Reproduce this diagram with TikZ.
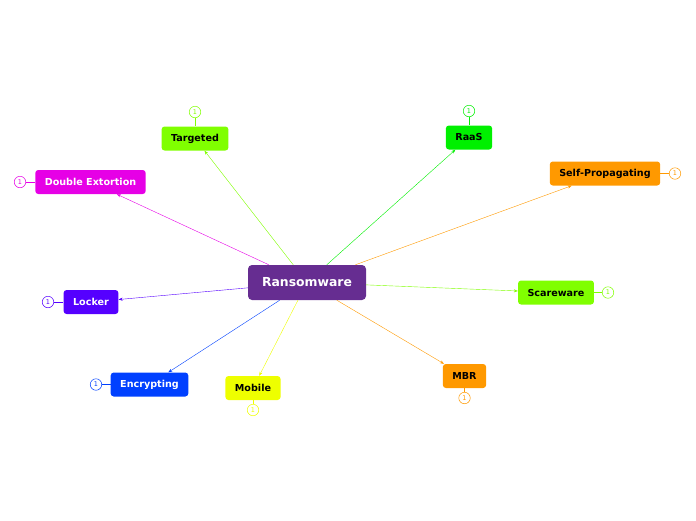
\documentclass[tikz,border=0pt]{standalone}
\usepackage{fontspec}
\setmainfont{DejaVu Sans}
\usetikzlibrary{arrows.meta, positioning}
\definecolor{rootpurple}{HTML}{662D91}
\definecolor{mmagenta}{HTML}{E600E6}
\definecolor{mlime}{HTML}{80FF00}
\definecolor{mgreen}{HTML}{00F000}
\definecolor{morange}{HTML}{FF9900}
\definecolor{myellow}{HTML}{EEFF00}
\definecolor{mblue}{HTML}{0040FF}
\definecolor{mviolet}{HTML}{5500FF}
\tikzset{
  root/.style={rounded corners=4pt, fill=rootpurple, text=white, minimum width=118pt, minimum height=35pt, font=\bfseries\fontsize{12.4}{14}\selectfont},
  leaf/.style={rounded corners=3pt, fill=#1, minimum height=24pt, inner xsep=9.5pt, font=\bfseries\fontsize{9.6}{11}\selectfont},
  badge/.style={circle, draw=#1, fill=white, text=#1, inner sep=0pt, minimum size=11.5pt, line width=0.5pt, font=\fontsize{6.5}{7}\selectfont},
  link/.style={draw=#1, -{Stealth[length=4pt,width=3pt]}, line width=0.4pt},
  tie/.style={draw=#1, line width=0.7pt},
}
\begin{document}
\begin{tikzpicture}[x=1pt, y=-1pt]
	\useasboundingbox (0,0) rectangle (696,520);
	% central topic
	\node[root] (ransom) at (307,282.5) {Ransomware};
	% subtopics
	\node[leaf=mmagenta, text=white] (dext) at (90.5,182) {Double Extortion};
	\node[leaf=mlime] (targ) at (195,138.5) {Targeted};
	\node[leaf=mgreen] (raas) at (469,137.5) {RaaS};
	\node[leaf=morange] (selfp) at (605,173.5) {Self-Propagating};
	\node[leaf=mlime] (scare) at (556,292.5) {Scareware};
	\node[leaf=morange] (mbr) at (464.5,376) {MBR};
	\node[leaf=myellow] (mobile) at (253,388) {Mobile};
	\node[leaf=mblue, text=white] (encr) at (149.5,384.5) {Encrypting};
	\node[leaf=mviolet, text=white] (locker) at (91,302) {Locker};
	% connectors
	\draw[link=mmagenta] (ransom) -- (dext);
	\draw[link=mlime] (ransom) -- (targ);
	\draw[link=mgreen] (ransom) -- (raas);
	\draw[link=morange] (ransom) -- (selfp);
	\draw[link=mlime] (ransom) -- (scare);
	\draw[link=morange] (ransom) -- (mbr);
	\draw[link=myellow] (ransom) -- (mobile);
	\draw[link=mblue] (ransom) -- (encr);
	\draw[link=mviolet] (ransom) -- (locker);
	% badges
	\node[badge=mmagenta] (bdext) at (20,182) {1};
	\node[badge=mlime] (btarg) at (195,112) {1};
	\node[badge=mgreen] (braas) at (469,111) {1};
	\node[badge=morange] (bselfp) at (675,173.5) {1};
	\node[badge=mlime] (bscare) at (608,292.5) {1};
	\node[badge=morange] (bmbr) at (464.5,398) {1};
	\node[badge=myellow] (bmobile) at (253,410) {1};
	\node[badge=mblue] (bencr) at (96,384.5) {1};
	\node[badge=mviolet] (blocker) at (48,302) {1};
	\draw[tie=mmagenta] (bdext) -- (dext);
	\draw[tie=mlime] (btarg) -- (targ);
	\draw[tie=mgreen] (braas) -- (raas);
	\draw[tie=morange] (bselfp) -- (selfp);
	\draw[tie=mlime] (bscare) -- (scare);
	\draw[tie=morange] (bmbr) -- (mbr);
	\draw[tie=myellow] (bmobile) -- (mobile);
	\draw[tie=mblue] (bencr) -- (encr);
	\draw[tie=mviolet] (blocker) -- (locker);
\end{tikzpicture}
\end{document}
